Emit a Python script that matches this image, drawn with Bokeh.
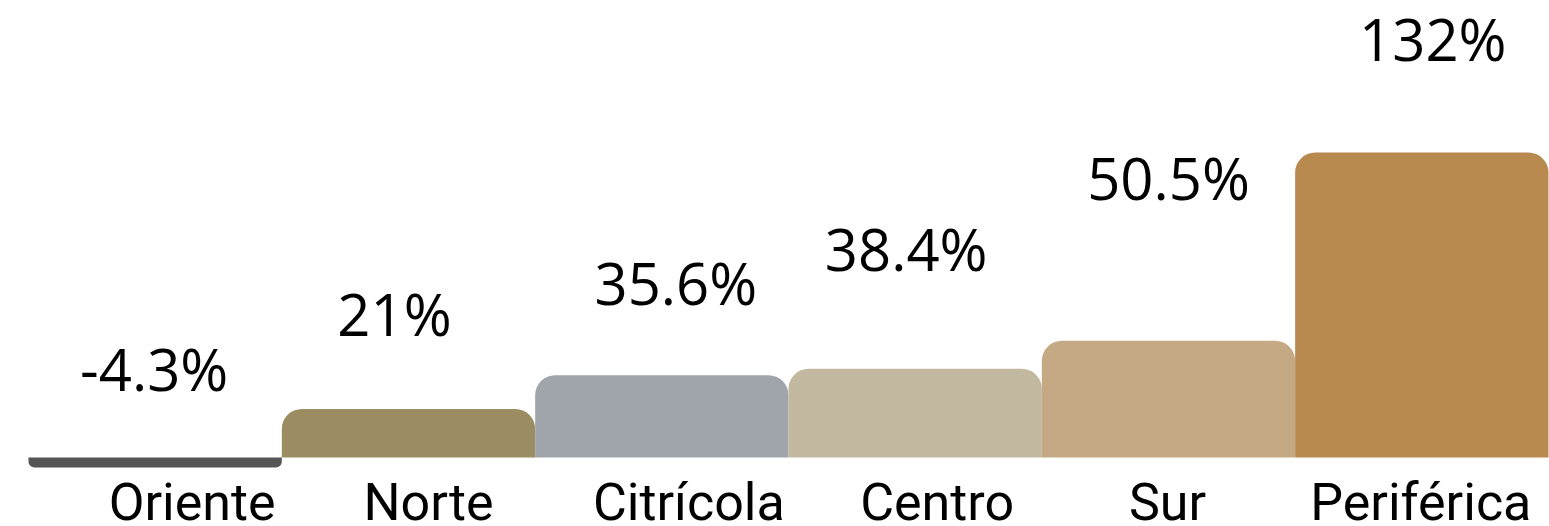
from bokeh.plotting import figure
from bokeh.models import Range1d, ColumnDataSource
from bokeh.core.properties import value
from bokeh.embed import file_html
from bokeh.resources import INLINE

categories = ["Oriente", "Norte", "Citrícola", "Centro", "Sur", "Periférica"]
values = [-4.3, 21, 35.6, 38.4, 50.5, 132]
value_labels = ["-4.3%", "21%", "35.6%", "38.4%", "50.5%", "132%"]
colors = ["#555555", "#9c8c62", "#9fa5ab", "#c2b9a0", "#c5a985", "#b98a50"]

# layout only: label lift above bar top and horizontal nudges (pixels)
label_lift = [89, 95, 93, 120, 163, 114]
label_dx = [-1, -14, 14, -9, 0, 11]
cat_dx = [37, 20, 27, 22, -1, -1]

centers = [i + 0.5 for i in range(len(categories))]
tops = [max(v, 0) for v in values]

p = figure(width=1549, height=526, output_backend="svg", toolbar_location=None,
           x_range=Range1d(-0.1105, 6.004), y_range=Range1d(-29.87, 197.8),
           min_border=0, min_border_left=0, min_border_right=0,
           min_border_top=0, min_border_bottom=0)
p.axis.visible = False
p.grid.visible = False
p.outline_line_color = None
p.background_fill_color = "white"
p.border_fill_color = "white"

pos = [i for i, v in enumerate(values) if v >= 0]
neg = [i for i, v in enumerate(values) if v < 0]

src_pos = ColumnDataSource(dict(x=[centers[i] for i in pos], top=[values[i] for i in pos],
                                color=[colors[i] for i in pos]))
src_neg = ColumnDataSource(dict(x=[centers[i] for i in neg], top=[values[i] for i in neg],
                                color=[colors[i] for i in neg]))

p.vbar(x="x", top="top", bottom=0, width=1.0, color="color", source=src_pos,
       line_color=None, border_radius=(20, 20, 0, 0))
p.vbar(x="x", top="top", bottom=0, width=1.0, color="color", source=src_neg,
       line_color=None, border_radius=(0, 0, 6, 6))

lab_src = ColumnDataSource(dict(x=centers, y=tops, text=value_labels,
                                xo=label_dx, yo=[-l for l in label_lift]))
p.text(x="x", y="y", text="text", source=lab_src, x_offset="xo", y_offset="yo",
       text_align="center", text_baseline="alphabetic",
       text_font=value("Open Sans"), text_font_size="58px", text_color="#000000")

cat_src = ColumnDataSource(dict(x=centers, y=[0] * len(categories), text=categories,
                                xo=cat_dx))
p.text(x="x", y="y", text="text", source=cat_src, x_offset="xo", y_offset=45,
       text_align="center", text_baseline="alphabetic",
       text_font=value("Roboto"), text_font_size="52px", text_color="#000000")

open("out.html", "w").write(file_html(p, INLINE))
